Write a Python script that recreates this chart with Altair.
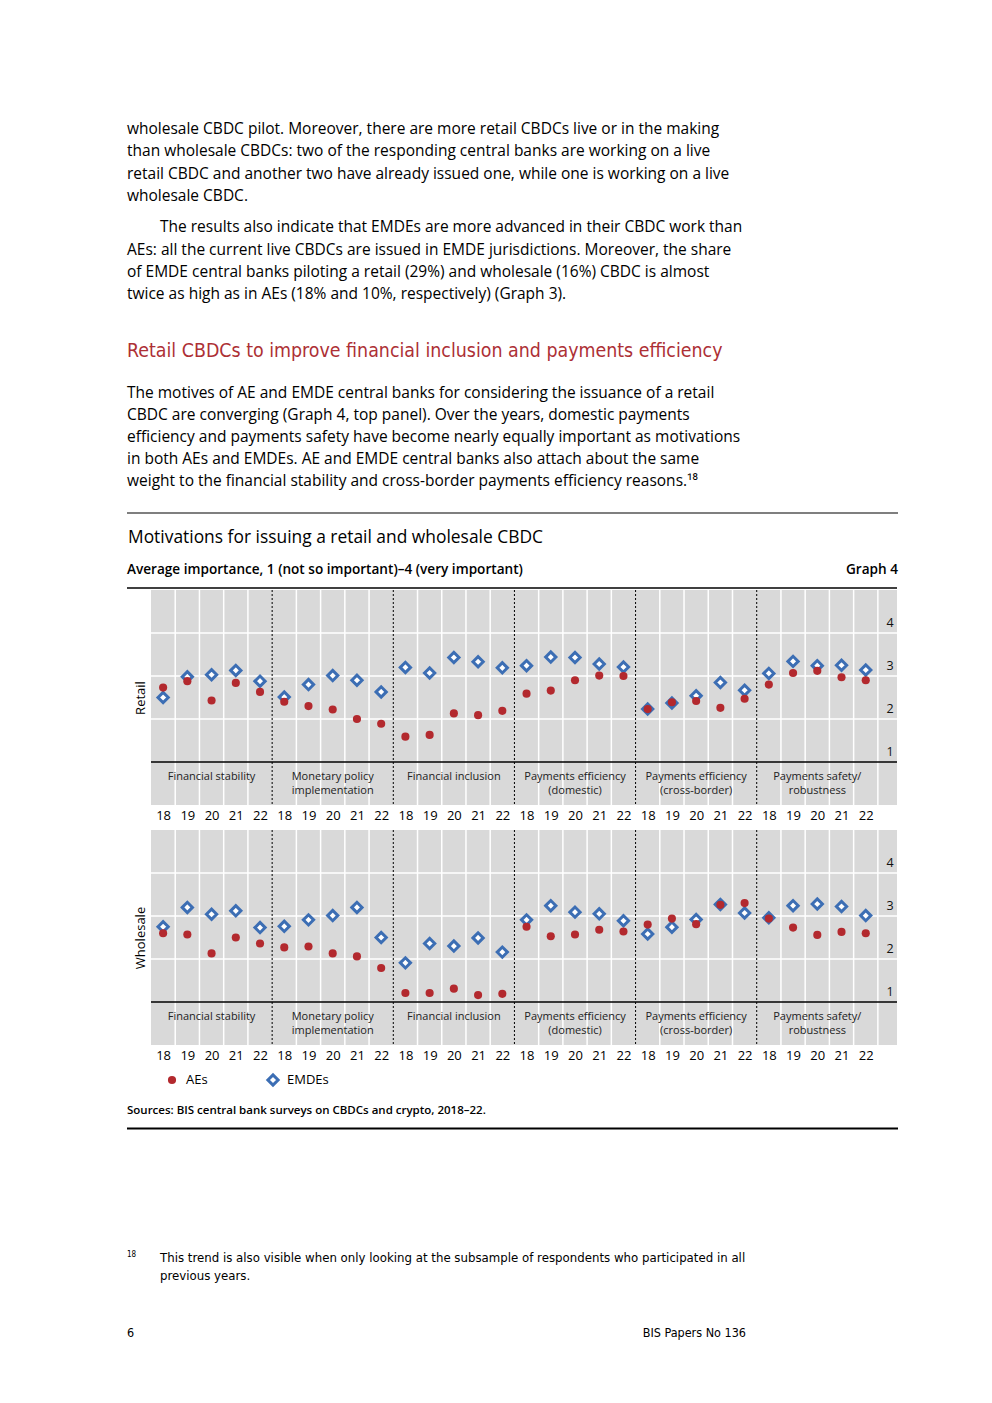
import altair as alt
import pandas as pd

# ---------------- data ----------------
categories = [
    "Financial stability",
    "Monetary policy\nimplementation",
    "Financial inclusion",
    "Payments efficiency\n(domestic)",
    "Payments efficiency\n(cross-border)",
    "Payments safety/\nrobustness",
]
years = ["18", "19", "20", "21", "22"]
series = ["AEs", "EMDEs"]
y_ticks = [1, 2, 3, 4]

retail_aes = [2.73, 2.88, 2.43, 2.84, 2.63,
              2.40, 2.30, 2.22, 2.00, 1.89,
              1.59, 1.63, 2.13, 2.09, 2.19,
              2.59, 2.66, 2.90, 3.01, 3.00,
              2.23, 2.39, 2.42, 2.26, 2.47,
              2.80, 3.07, 3.12, 2.97, 2.90]
retail_emdes = [2.50, 2.98, 3.03, 3.13, 2.88,
                2.51, 2.80, 3.01, 2.90, 2.63,
                3.20, 3.07, 3.43, 3.33, 3.19,
                3.24, 3.44, 3.43, 3.28, 3.21,
                2.23, 2.37, 2.54, 2.85, 2.67,
                3.06, 3.34, 3.24, 3.25, 3.14]
wholesale_aes = [2.60, 2.57, 2.13, 2.50, 2.36,
                 2.27, 2.29, 2.13, 2.06, 1.79,
                 1.21, 1.21, 1.31, 1.16, 1.19,
                 2.75, 2.53, 2.57, 2.68, 2.64,
                 2.80, 2.94, 2.81, 3.26, 3.30,
                 2.94, 2.73, 2.56, 2.63, 2.60]
wholesale_emdes = [2.75, 3.20, 3.04, 3.12, 2.73,
                   2.76, 2.91, 3.01, 3.20, 2.50,
                   1.91, 2.36, 2.30, 2.49, 2.16,
                   2.91, 3.24, 3.09, 3.05, 2.89,
                   2.58, 2.74, 2.92, 3.27, 3.07,
                   2.96, 3.24, 3.28, 3.22, 3.01]

para1 = [
    "wholesale CBDC pilot. Moreover, there are more retail CBDCs live or in the making",
    "than wholesale CBDCs: two of the responding central banks are working on a live",
    "retail CBDC and another two have already issued one, while one is working on a live",
    "wholesale CBDC.",
]
para2_first = "The results also indicate that EMDEs are more advanced in their CBDC work than"
para2 = [
    "AEs: all the current live CBDCs are issued in EMDE jurisdictions. Moreover, the share",
    "of EMDE central banks piloting a retail (29%) and wholesale (16%) CBDC is almost",
    "twice as high as in AEs (18% and 10%, respectively) (Graph 3).",
]
heading = "Retail CBDCs to improve financial inclusion and payments efficiency"
para3 = [
    "The motives of AE and EMDE central banks for considering the issuance of a retail",
    "CBDC are converging (Graph 4, top panel). Over the years, domestic payments",
    "efficiency and payments safety have become nearly equally important as motivations",
    "in both AEs and EMDEs. AE and EMDE central banks also attach about the same",
    "weight to the financial stability and cross-border payments efficiency reasons.\u00b9\u2078",
]
chart_title = "Motivations for issuing a retail and wholesale CBDC"
chart_subtitle = "Average importance, 1 (not so important)\u20134 (very important)"
graph_no = "Graph 4"
panel_titles = ["Retail", "Wholesale"]
sources = "Sources: BIS central bank surveys on CBDCs and crypto, 2018\u201322."
footnote_no = "18"
footnote = [
    "This trend is also visible when only looking at the subsample of respondents who participated in all",
    "previous years.",
]
page_no = "6"
publication = "BIS Papers No 136"

# ---------------- styling ----------------
RED = "#B3292E"
BLUE = "#3C6EB4"
GRAY = "#D9D9D9"
HEAD_RED = "#AD3035"
FONT = "Open Sans"
NARROW = "'Liberation Sans Narrow', 'DejaVu Sans Condensed', 'Roboto', sans-serif"
W = 746
H = 215
n_per = len(years)
n_cols = len(categories) * n_per
XDOM = [0.5, n_cols + 1.29]
xs = alt.Scale(domain=XDOM, nice=False, zero=False)
ys = alt.Scale(domain=[0, 5], nice=False, zero=False)
one = pd.DataFrame({"one": [0]})

white_b = [k + 0.5 for k in range(1, n_cols + 1) if k % n_per != 0] + [n_cols + 0.5]
dash_b = [c * n_per + 0.5 for c in range(1, len(categories))]
centers = [c * n_per + (n_per + 1) / 2 for c in range(len(categories))]

label_expr = "[" + ",".join("'%s'" % y for y in years) + "][(datum.value - 1) %% %d]" % n_per

XAXIS = alt.Axis(values=list(range(1, n_cols + 1)), labelExpr=label_expr,
                 ticks=False, domain=False, grid=False, labelFont=FONT,
                 labelFontSize=13, labelPadding=4, labelColor="black",
                 title=None, labelFlush=False, labelOverlap=False)


def yaxis(title):
    return alt.Axis(title=title, labels=False, ticks=False, domain=False, grid=False,
                    titleFont=FONT, titleFontSize=13, titleFontWeight="normal",
                    titlePadding=4, titleColor="black")


def panel_df(aes, emdes):
    rows = []
    for ci, cat in enumerate(categories):
        for yi, yr in enumerate(years):
            k = ci * n_per + yi
            rows.append({"pos": k + 1, "year": yr, "category": cat,
                         "AEs": aes[k], "EMDEs": emdes[k]})
    return pd.DataFrame(rows)


def panel(aes, emdes, title):
    df = panel_df(aes, emdes)
    YA = yaxis(title)
    bg = alt.Chart(one).mark_rect(color=GRAY).encode(
        x=alt.value(0), x2=alt.value(W), y=alt.value(0), y2=alt.value(H))
    vgrid = alt.Chart(pd.DataFrame({"b": white_b})).mark_rule(
        color="white", strokeWidth=1.5).encode(
        x=alt.X("b:Q", scale=xs, axis=XAXIS), y=alt.value(0), y2=alt.value(H))
    hgrid = alt.Chart(pd.DataFrame({"v": y_ticks[1:]})).mark_rule(
        color="white", strokeWidth=1.5).encode(
        y=alt.Y("v:Q", scale=ys, axis=YA), x=alt.value(0), x2=alt.value(W))
    base = alt.Chart(pd.DataFrame({"v": y_ticks[:1]})).mark_rule(
        color="black", strokeWidth=1.3).encode(
        y=alt.Y("v:Q", scale=ys, axis=YA), x=alt.value(0), x2=alt.value(W))
    dashed = alt.Chart(pd.DataFrame({"b": dash_b})).mark_rule(
        color="black", strokeWidth=1, strokeDash=[2, 2]).encode(
        x=alt.X("b:Q", scale=xs, axis=XAXIS), y=alt.value(0), y2=alt.value(H))
    cats = alt.Chart(pd.DataFrame({"c": centers, "label": categories,
                                   "row": [y_ticks[0]] * len(categories)})).transform_calculate(
        lines="split(datum.label, '\\n')").mark_text(
        font=FONT, fontSize=11, baseline="top", lineHeight=14, dy=9, color="#222222").encode(
        x=alt.X("c:Q", scale=xs, axis=XAXIS),
        y=alt.Y("row:Q", scale=ys, axis=YA), text="lines:N")
    ylab = alt.Chart(pd.DataFrame({"v": y_ticks})).mark_text(
        font=FONT, fontSize=12.5, baseline="bottom", dy=-3, align="center",
        color="#111111").encode(
        y=alt.Y("v:Q", scale=ys, axis=YA), x=alt.value(W - 7), text="v:Q")
    emde = alt.Chart(df).mark_point(
        shape="diamond", filled=True, fill="white", stroke=BLUE, strokeWidth=3,
        size=105, opacity=1).encode(
        x=alt.X("pos:Q", scale=xs, axis=XAXIS),
        y=alt.Y("EMDEs:Q", scale=ys, axis=YA))
    ae = alt.Chart(df).mark_circle(color=RED, size=66, opacity=1).encode(
        x=alt.X("pos:Q", scale=xs, axis=XAXIS),
        y=alt.Y("AEs:Q", scale=ys, axis=YA))
    return alt.layer(bg, vgrid, hgrid, base, dashed, cats, ylab, emde, ae).properties(
        width=W, height=H)


def txt(text, x, y, size=15.5, font=FONT, color="black", align="left",
        weight="normal", line_height=22):
    return alt.Chart(one).mark_text(
        text=text, font=font, fontSize=size, color=color, align=align,
        baseline="alphabetic", fontWeight=weight, lineHeight=line_height).encode(
        x=alt.value(x), y=alt.value(y))


def hline(x1, x2, y, width=1.2):
    return alt.Chart(one).mark_rule(color="black", strokeWidth=width).encode(
        x=alt.value(x1), x2=alt.value(x2), y=alt.value(y))


# top text block (origin: page x 151, page y 8)
A_H = 557
anchor = alt.Chart(one).mark_rect(color="white").encode(
    x=alt.value(-143), x2=alt.value(W + 80), y=alt.value(0), y2=alt.value(A_H))
top = alt.layer(
    anchor,
    txt(para1, -24, 126, line_height=22.3),
    txt(para2_first, 9, 224),
    txt(para2, -24, 246.5, line_height=22.3),
    txt(heading, -24, 349, size=19.4, font=NARROW, color=HEAD_RED),
    txt(para3, -24, 390, line_height=22),
    hline(-24, W + 1, 505, 1.2),
    txt(chart_title, -23, 535, size=17.4),
    txt(chart_subtitle, -24, 565.5, size=13.6, weight=600),
    txt(graph_no, W + 1, 565.5, size=13.6, weight=600, align="right"),
    hline(-24, W, 580, 1.4),
).properties(width=W, height=A_H)

retail = panel(retail_aes, retail_emdes, panel_titles[0])
wholesale = panel(wholesale_aes, wholesale_emdes, panel_titles[1])

# bottom block (origin: page x 151, page y 1070)
leg_scale = alt.Scale(type="point", domain=series, range=[21, 122], padding=0)
leg_df = pd.DataFrame({"series": series})
leg_ae = alt.Chart(leg_df).transform_filter(alt.datum.series == series[0]).mark_circle(
    color=RED, size=66, opacity=1).encode(
    x=alt.X("series:N", scale=leg_scale, axis=None), y=alt.value(10))
leg_emde = alt.Chart(leg_df).transform_filter(alt.datum.series == series[1]).mark_point(
    shape="diamond", filled=True, fill="white", stroke=BLUE, strokeWidth=3,
    size=105, opacity=1).encode(
    x=alt.X("series:N", scale=leg_scale, axis=None), y=alt.value(10))
leg_txt = alt.Chart(leg_df).mark_text(
    font=FONT, fontSize=13, align="left", baseline="middle", dx=14).encode(
    x=alt.X("series:N", scale=leg_scale, axis=None), y=alt.value(10), text="series:N")

D_H = 280
bottom = alt.layer(
    leg_ae, leg_emde, leg_txt,
    txt(sources, -24, 44, size=11.5, weight=600),
    hline(-24, W + 1, 58.5, 2),
    txt(footnote_no, -24, 187, size=8, font=NARROW),
    txt(footnote, 9, 192, size=13.1, font=NARROW, line_height=18),
    txt(page_no, -24, 267, size=12.5, font=NARROW),
    txt(publication, 595, 267, size=12.5, font=NARROW, align="right"),
).properties(width=W, height=D_H)

chart = alt.vconcat(top, retail, wholesale, bottom, spacing=25, bounds="flush").properties(
    padding=0, background="white").configure_view(stroke="transparent", strokeWidth=0)

chart.save("out.html", embed_options={"renderer": "svg", "actions": False})
